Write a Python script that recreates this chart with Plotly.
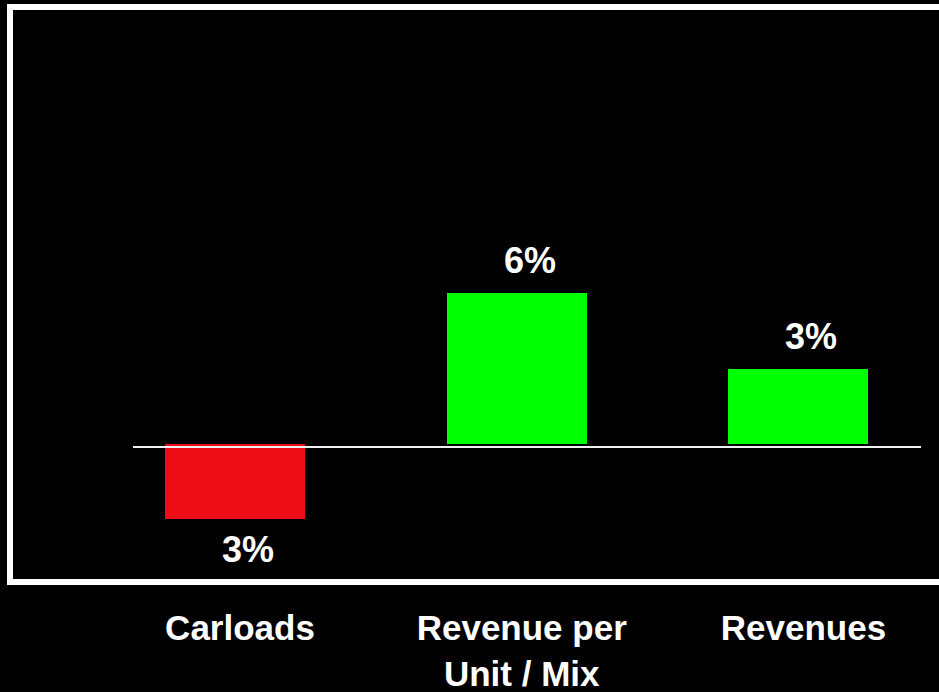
import plotly.graph_objects as go

# Year-over-year change by component
categories = ["Carloads", "Revenue per<br>Unit / Mix", "Revenues"]
values = [-3, 6, 3]
value_labels = ["3%", "6%", "3%"]
bar_colors = ["#EE0C16", "#00FF00", "#00FF00"]

FONT = "Liberation Sans, Arial, sans-serif"

fig = go.Figure(
    go.Bar(
        x=categories,
        y=values,
        width=0.497,
        marker=dict(color=bar_colors, line=dict(width=0)),
        hoverinfo="skip",
    )
)

# value labels, placed above positive bars and below negative ones
for cat, v, lab in zip(categories, values, value_labels):
    fig.add_annotation(
        x=cat, y=v, text=f"<b>{lab}</b>", showarrow=False,
        xshift=13,
        yanchor="bottom" if v >= 0 else "top",
        yshift=10 if v >= 0 else -8,
        font=dict(family=FONT, size=36, color="white"),
    )

# baseline
fig.add_shape(
    type="line", xref="paper", x0=0, x1=1,
    yref="y", ysizemode="pixel", yanchor=0, y0=-3, y1=-3,
    line=dict(color="#f0f0f0", width=2),
)

# frame around the chart
fig.add_shape(
    type="rect", xref="paper", yref="paper",
    x0=(10 - 133) / 788, x1=(950 - 133) / 788, y0=0, y1=1,
    line=dict(color="white", width=6),
)

fig.update_layout(
    width=939, height=692,
    margin=dict(l=133, r=18, t=7, b=110),
    paper_bgcolor="black", plot_bgcolor="black",
    showlegend=False,
    bargap=0,
    xaxis=dict(
        type="category",
        range=[-0.362, 2.435],
        automargin=False,
        showgrid=False, showline=False, zeroline=False, ticks="",
        tickfont=dict(family=FONT, size=35, color="white", weight="bold"),
        ticklabelstandoff=22,
        ticklabelshift=5,
    ),
    yaxis=dict(
        range=[-5.50, 17.41],
        automargin=False,
        showgrid=False, showline=False, zeroline=False,
        showticklabels=False, ticks="",
    ),
)

fig.write_html("out.html")
